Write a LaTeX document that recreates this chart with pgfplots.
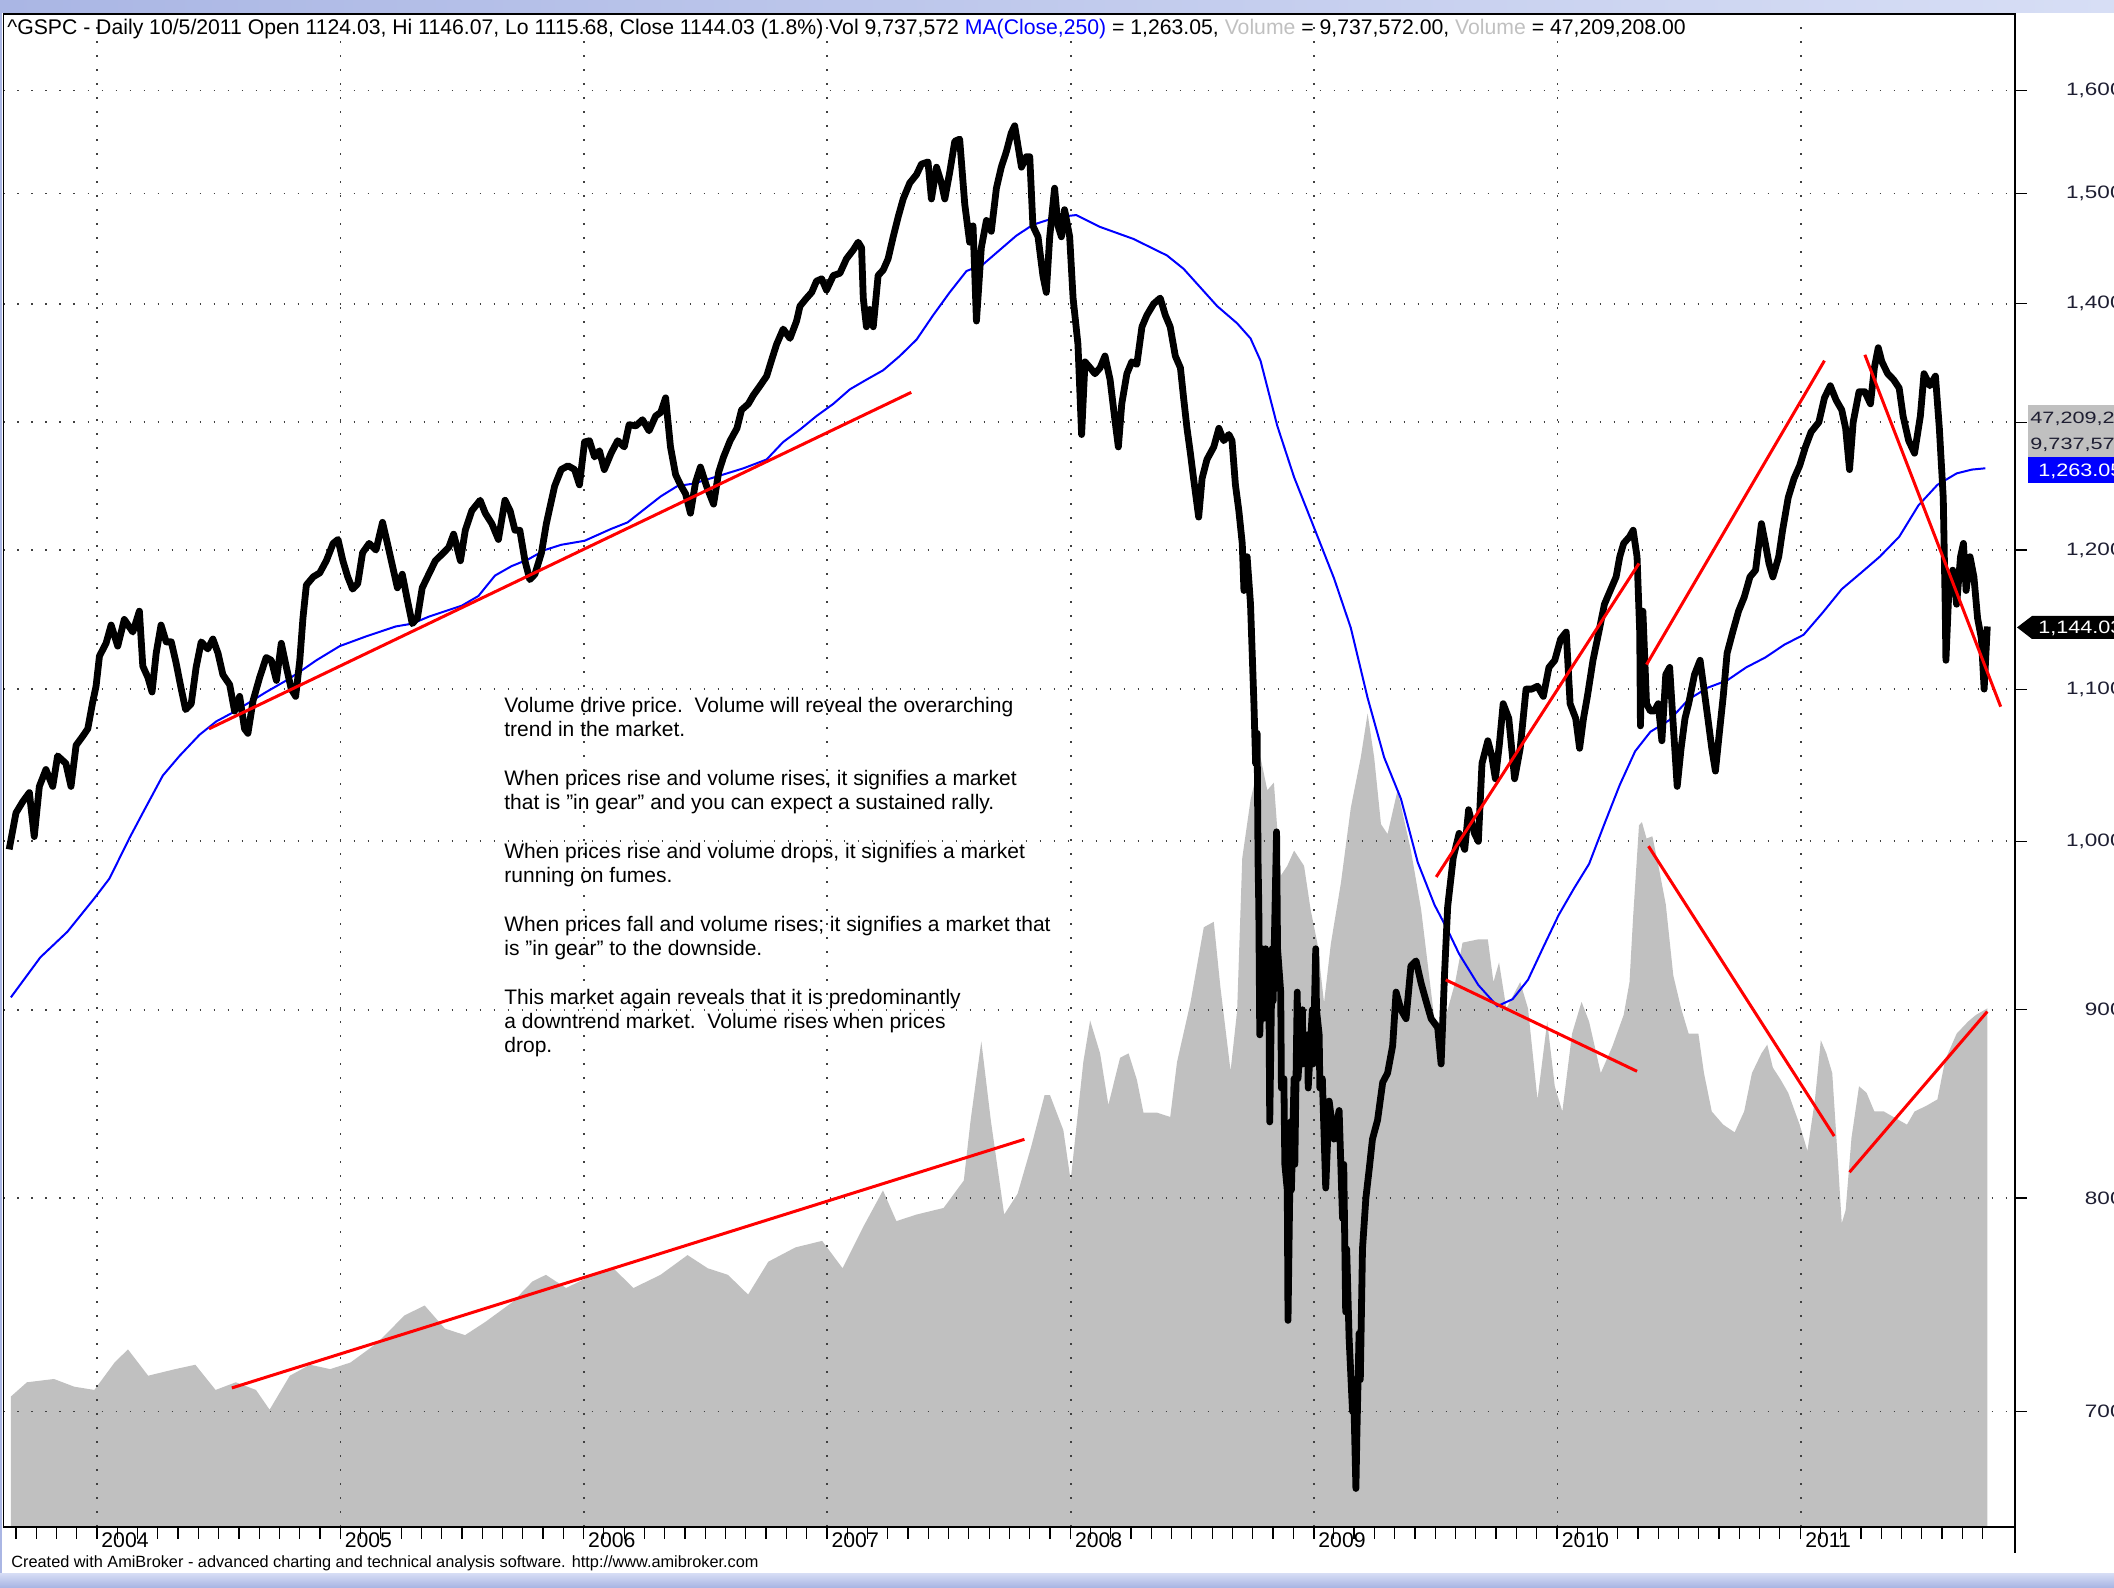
\documentclass[border=0pt]{standalone}
\usepackage{fontspec}
\setmainfont{Liberation Sans}
\usepackage{graphicx}
\usepackage{pgfplots}
\pgfplotsset{compat=1.18}
\usepackage{pgfplotstable}

\definecolor{volgray}{RGB}{192,192,192}
\definecolor{mablue}{RGB}{0,0,255}
\definecolor{trendred}{RGB}{255,0,0}
\definecolor{labink}{RGB}{30,30,50}
\definecolor{bannerA}{RGB}{170,182,228}
\definecolor{bannerB}{RGB}{215,222,245}

\newcommand{\sy}[1]{\scalebox{1.25}[1]{#1}}
\newcommand{\sx}[1]{\mbox{#1}}

\pgfplotstableread{
yr px
2003.639 995
2003.667 1018
2003.694 1025
2003.722 1031
2003.742 1003
2003.763 1035
2003.790 1046
2003.818 1035
2003.838 1055
2003.872 1050
2003.893 1035
2003.914 1062
2003.941 1068
2003.962 1073
2003.982 1091
2003.996 1102
2004.010 1123
2004.037 1132
2004.058 1145
2004.085 1130
2004.112 1149
2004.147 1140
2004.174 1155
2004.188 1116
2004.209 1108
2004.226 1098
2004.243 1125
2004.263 1145
2004.284 1133
2004.305 1133
2004.325 1118
2004.346 1100
2004.364 1086
2004.387 1090
2004.407 1115
2004.428 1133
2004.455 1128
2004.476 1135
2004.497 1125
2004.517 1110
2004.545 1103
2004.565 1085
2004.586 1095
2004.606 1073
2004.620 1070
2004.641 1092
2004.668 1108
2004.695 1122
2004.716 1120
2004.737 1106
2004.757 1132
2004.778 1115
2004.798 1100
2004.816 1095
2004.833 1120
2004.846 1150
2004.860 1174
2004.888 1180
2004.915 1183
2004.942 1192
2004.970 1205
2004.990 1208
2005.010 1192
2005.030 1180
2005.050 1171
2005.071 1175
2005.091 1198
2005.118 1205
2005.146 1200
2005.173 1221
2005.193 1205
2005.214 1188
2005.234 1172
2005.254 1182
2005.275 1163
2005.295 1146
2005.316 1150
2005.336 1172
2005.363 1182
2005.390 1192
2005.418 1197
2005.445 1202
2005.465 1212
2005.493 1192
2005.513 1215
2005.540 1230
2005.574 1238
2005.595 1228
2005.622 1220
2005.649 1208
2005.676 1238
2005.697 1230
2005.717 1215
2005.737 1215
2005.758 1192
2005.778 1178
2005.799 1182
2005.826 1198
2005.846 1220
2005.860 1232
2005.880 1249
2005.907 1262
2005.935 1265
2005.962 1262
2005.982 1250
2006.003 1284
2006.023 1285
2006.044 1272
2006.064 1277
2006.084 1262
2006.112 1275
2006.139 1285
2006.166 1280
2006.186 1298
2006.214 1297
2006.241 1302
2006.268 1293
2006.295 1305
2006.316 1308
2006.336 1320
2006.356 1280
2006.377 1258
2006.397 1250
2006.418 1243
2006.438 1228
2006.459 1252
2006.479 1264
2006.506 1248
2006.533 1235
2006.554 1260
2006.574 1272
2006.601 1285
2006.629 1295
2006.648 1310
2006.676 1315
2006.696 1322
2006.724 1330
2006.751 1338
2006.772 1352
2006.792 1365
2006.819 1378
2006.847 1370
2006.874 1385
2006.888 1398
2006.915 1405
2006.936 1410
2006.956 1420
2006.977 1422
2006.997 1412
2007.025 1425
2007.052 1427
2007.079 1440
2007.107 1448
2007.127 1455
2007.141 1450
2007.148 1405
2007.161 1380
2007.175 1395
2007.189 1380
2007.209 1425
2007.230 1430
2007.250 1440
2007.271 1460
2007.291 1478
2007.312 1495
2007.339 1510
2007.367 1518
2007.387 1528
2007.414 1530
2007.428 1495
2007.449 1525
2007.469 1510
2007.483 1495
2007.503 1520
2007.524 1550
2007.544 1552
2007.565 1490
2007.585 1455
2007.599 1470
2007.613 1385
2007.633 1450
2007.654 1475
2007.674 1465
2007.695 1505
2007.715 1525
2007.736 1540
2007.756 1558
2007.770 1565
2007.784 1545
2007.798 1525
2007.818 1535
2007.832 1535
2007.845 1470
2007.866 1460
2007.886 1425
2007.900 1410
2007.914 1460
2007.934 1505
2007.948 1470
2007.962 1460
2007.975 1485
2007.996 1460
2008.010 1405
2008.030 1365
2008.045 1290
2008.059 1350
2008.080 1345
2008.100 1340
2008.121 1345
2008.141 1355
2008.162 1335
2008.183 1300
2008.196 1280
2008.210 1315
2008.231 1340
2008.251 1350
2008.272 1348
2008.293 1380
2008.313 1390
2008.341 1400
2008.368 1405
2008.389 1390
2008.409 1380
2008.430 1355
2008.451 1345
2008.464 1320
2008.478 1295
2008.492 1275
2008.505 1255
2008.526 1225
2008.540 1255
2008.560 1270
2008.588 1280
2008.609 1295
2008.629 1285
2008.650 1290
2008.663 1285
2008.677 1250
2008.691 1230
2008.705 1205
2008.712 1170
2008.725 1195
2008.739 1160
2008.753 1090
2008.760 1050
2008.766 1070
2008.770 987
2008.773 960
2008.777 886
2008.787 935
2008.790 895
2008.801 935
2008.805 905
2008.815 900
2008.818 839
2008.828 935
2008.832 905
2008.846 1006
2008.850 935
2008.863 910
2008.866 857
2008.876 862
2008.880 817
2008.890 804
2008.893 741
2008.904 839
2008.907 804
2008.918 862
2008.921 817
2008.931 910
2008.934 862
2008.952 900
2008.955 870
2008.973 886
2008.976 857
2008.993 900
2008.996 870
2009.007 935
2009.010 900
2009.021 886
2009.024 857
2009.034 862
2009.048 805
2009.062 850
2009.082 830
2009.103 845
2009.117 790
2009.122 817
2009.130 745
2009.134 775
2009.144 733
2009.158 700
2009.162 712
2009.172 667
2009.176 690
2009.185 735
2009.190 714
2009.199 775
2009.213 800
2009.227 815
2009.240 830
2009.261 840
2009.282 860
2009.302 865
2009.323 880
2009.337 910
2009.357 900
2009.378 895
2009.398 925
2009.419 928
2009.440 915
2009.460 905
2009.481 895
2009.508 890
2009.522 870
2009.536 920
2009.549 960
2009.572 990
2009.596 1005
2009.619 995
2009.635 1020
2009.659 1005
2009.675 1000
2009.690 1050
2009.714 1065
2009.730 1055
2009.745 1040
2009.761 1062
2009.777 1090
2009.800 1080
2009.824 1040
2009.847 1060
2009.871 1100
2009.895 1100
2009.918 1102
2009.942 1095
2009.965 1115
2009.989 1120
2010.013 1135
2010.036 1140
2010.052 1090
2010.075 1080
2010.091 1060
2010.107 1080
2010.123 1095
2010.146 1120
2010.170 1140
2010.193 1160
2010.217 1170
2010.241 1180
2010.256 1195
2010.272 1205
2010.296 1210
2010.311 1215
2010.327 1195
2010.338 1140
2010.341 1075
2010.351 1155
2010.366 1090
2010.382 1085
2010.398 1085
2010.414 1090
2010.429 1065
2010.445 1110
2010.461 1115
2010.476 1075
2010.492 1035
2010.508 1060
2010.524 1080
2010.539 1090
2010.563 1110
2010.586 1120
2010.602 1100
2010.618 1080
2010.634 1060
2010.649 1045
2010.665 1070
2010.681 1095
2010.697 1125
2010.720 1140
2010.744 1155
2010.767 1165
2010.791 1180
2010.814 1185
2010.838 1220
2010.854 1205
2010.869 1190
2010.885 1180
2010.909 1195
2010.925 1215
2010.948 1240
2010.972 1255
2010.995 1265
2011.019 1280
2011.042 1292
2011.074 1300
2011.097 1320
2011.121 1330
2011.145 1318
2011.168 1310
2011.184 1295
2011.200 1262
2011.215 1300
2011.239 1325
2011.263 1325
2011.286 1315
2011.302 1345
2011.318 1362
2011.333 1350
2011.357 1340
2011.381 1335
2011.404 1328
2011.420 1305
2011.443 1285
2011.467 1275
2011.491 1305
2011.506 1340
2011.530 1330
2011.553 1338
2011.569 1295
2011.585 1240
2011.593 1160
2011.596 1120
2011.608 1170
2011.624 1185
2011.640 1160
2011.656 1195
2011.668 1205
2011.679 1170
2011.695 1195
2011.711 1180
2011.726 1150
2011.742 1135
2011.753 1100
2011.766 1144
}\pricetab

\pgfplotstableread{
yr ma
2003.646 907
2003.767 930
2003.878 945
2003.989 965
2004.051 977
2004.133 1002
2004.188 1018
2004.270 1042
2004.339 1055
2004.421 1069
2004.490 1078
2004.558 1084
2004.627 1091
2004.695 1098
2004.778 1106
2004.833 1112
2004.901 1120
2004.997 1130
2005.107 1137
2005.227 1144
2005.295 1146
2005.363 1151
2005.499 1159
2005.567 1166
2005.635 1181
2005.703 1188
2005.771 1193
2005.839 1200
2005.907 1204
2006.003 1207
2006.112 1216
2006.180 1221
2006.248 1231
2006.316 1241
2006.384 1249
2006.452 1251
2006.520 1255
2006.588 1259
2006.656 1263
2006.751 1270
2006.819 1284
2006.888 1294
2006.956 1305
2007.025 1315
2007.093 1327
2007.161 1335
2007.230 1343
2007.298 1355
2007.367 1369
2007.435 1390
2007.503 1410
2007.572 1429
2007.640 1435
2007.709 1448
2007.777 1461
2007.845 1471
2007.914 1476
2007.982 1479
2008.023 1480
2008.121 1469
2008.258 1458
2008.396 1443
2008.464 1431
2008.602 1398
2008.684 1383
2008.739 1370
2008.780 1351
2008.849 1297
2008.918 1256
2009.000 1217
2009.082 1179
2009.151 1143
2009.220 1094
2009.288 1054
2009.357 1027
2009.426 987
2009.495 961
2009.549 946
2009.596 932
2009.675 914
2009.753 902
2009.816 906
2009.879 917
2009.942 936
2010.005 955
2010.068 971
2010.130 986
2010.193 1011
2010.256 1036
2010.319 1058
2010.382 1071
2010.461 1079
2010.539 1093
2010.618 1101
2010.697 1106
2010.775 1115
2010.854 1122
2010.932 1131
2011.011 1138
2011.090 1154
2011.168 1171
2011.247 1183
2011.324 1195
2011.404 1210
2011.483 1234
2011.561 1250
2011.640 1259
2011.703 1262
2011.758 1263
}\matab

\pgfplotstableread{
yr v
2003.646 11.9
2003.712 13.2
2003.823 13.5
2003.906 12.8
2003.989 12.5
2004.072 15.0
2004.127 16.2
2004.210 13.8
2004.321 14.4
2004.404 14.8
2004.487 12.5
2004.570 13.2
2004.653 12.5
2004.709 10.7
2004.792 13.8
2004.875 14.8
2004.958 14.4
2005.041 15.0
2005.152 16.8
2005.263 19.3
2005.346 20.2
2005.429 18.1
2005.512 17.5
2005.595 18.7
2005.706 20.5
2005.789 22.4
2005.844 23.0
2005.927 21.8
2006.038 23.0
2006.121 23.6
2006.204 21.8
2006.315 23.0
2006.426 24.8
2006.509 23.6
2006.592 23.0
2006.675 21.2
2006.758 24.2
2006.869 25.5
2006.979 26.1
2007.063 23.6
2007.146 27.3
2007.229 30.7
2007.284 27.9
2007.367 28.5
2007.478 29.1
2007.561 31.6
2007.589 37.1
2007.633 44.3
2007.672 37.1
2007.727 28.5
2007.782 30.4
2007.838 34.7
2007.893 39.4
2007.915 39.4
2007.970 36.2
2008.000 31.6
2008.052 42.4
2008.080 46.2
2008.121 43.2
2008.155 38.5
2008.203 42.8
2008.238 43.2
2008.272 40.8
2008.299 37.8
2008.354 37.8
2008.409 37.4
2008.437 42.4
2008.492 47.8
2008.547 54.7
2008.588 55.2
2008.615 49.3
2008.657 41.6
2008.684 47.1
2008.705 61.0
2008.739 66.3
2008.780 70.2
2008.808 67.2
2008.835 67.9
2008.863 59.4
2008.890 60.3
2008.918 61.7
2008.959 60.3
2008.986 56.3
2009.014 53.2
2009.041 47.8
2009.069 53.2
2009.110 58.7
2009.151 65.6
2009.192 70.2
2009.220 74.2
2009.247 70.2
2009.275 64.1
2009.302 63.2
2009.343 67.2
2009.398 61.7
2009.440 56.3
2009.495 46.2
2009.533 45.9
2009.580 49.7
2009.610 53.3
2009.675 53.6
2009.714 53.6
2009.737 49.7
2009.760 51.5
2009.790 47.3
2009.847 49.7
2009.879 47.3
2009.918 39.0
2009.958 46.1
2009.989 40.2
2010.020 37.9
2010.060 45.0
2010.099 47.9
2010.130 46.1
2010.178 41.4
2010.225 43.8
2010.272 46.7
2010.296 49.7
2010.311 55.7
2010.335 64.0
2010.347 64.3
2010.366 62.8
2010.390 63.0
2010.414 60.4
2010.445 56.8
2010.476 50.3
2010.508 47.3
2010.539 45.0
2010.579 45.0
2010.602 41.4
2010.634 37.9
2010.681 36.7
2010.728 36.0
2010.767 37.9
2010.799 41.4
2010.838 43.2
2010.862 44.0
2010.885 41.9
2010.917 40.8
2010.948 39.6
2010.995 36.7
2011.027 34.3
2011.058 39.0
2011.082 44.4
2011.105 43.2
2011.129 41.4
2011.153 33.1
2011.168 27.7
2011.184 28.9
2011.208 35.5
2011.239 40.2
2011.270 39.6
2011.302 37.9
2011.341 37.9
2011.388 37.3
2011.436 36.7
2011.467 37.9
2011.514 38.4
2011.561 39.0
2011.593 42.6
2011.640 45.0
2011.687 46.1
2011.719 46.7
2011.766 47.3
}\voltab

\begin{document}
\begin{tikzpicture}
% decorative strips of the screenshot
\shade[left color=bannerA, right color=bannerB] (0pt,787pt) rectangle (1057pt,793.5pt);
\shade[top color=bannerB, bottom color=bannerA] (0pt,0pt) rectangle (1057pt,7pt);
\fill[bannerA] (0pt,7pt) rectangle (1.1pt,787pt);

% volume (background area)
\begin{axis}[
  at={(1.75pt,30pt)}, anchor=south west, scale only axis,
  width=1005.75pt, height=756.5pt,
  xmin=2003.6157, xmax=2011.8795, ymin=0, ymax=138,
  hide axis]
\addplot[fill=volgray, draw=none] table[x=yr,y=v]{\voltab} \closedcycle;
\end{axis}

% price axis
\begin{axis}[
  at={(1.75pt,30pt)}, anchor=south west, scale only axis,
  width=1005.75pt, height=756.5pt,
  xmin=2003.6157, xmax=2011.8795,
  ymode=log, ymin=651.2, ymax=1678.5,
  axis line style={black, line width=0.8pt},
  xtick={2004,2005,2006,2007,2008,2009,2010,2011},
  xticklabels={\sx{2004},\sx{2005},\sx{2006},\sx{2007},\sx{2008},\sx{2009},\sx{2010},\sx{2011}},
  minor xtick={2003.66667,2003.75,...,2011.76},
  ytick={700,800,900,1000,1100,1200,1300,1400,1500,1600},
  yticklabels={\sy{700},\sy{800},\sy{900},\sy{1,000},\sy{1,100},\sy{1,200},{},\sy{1,400},\sy{1,500},\sy{1,600}},
  xtick pos=bottom, ytick pos=right, tick align=outside,
  major tick length=6pt, minor tick length=6pt,
  tick style={black, line width=0.6pt},
  xticklabel style={font=\fontsize{10.6}{12}\selectfont, anchor=north west, inner sep=0pt, xshift=2pt, yshift=3pt},
  yticklabel style={font=\fontsize{9}{11}\selectfont, text=labink, anchor=east, inner sep=0pt, xshift=48pt},
  grid=major,
  major grid style={black!75, line width=0.9pt, dash pattern=on 0.9pt off 6.1pt},
  ]
\addplot[mablue, line width=1pt] table[x=yr,y=ma]{\matab};
\addplot[black, line width=3.4pt, line join=round] table[x=yr,y=px]{\pricetab};
\addplot[trendred, line width=1.5pt] coordinates {(2004.460,1073) (2007.345,1324.5)};
\addplot[trendred, line width=1.5pt] coordinates {(2004.554,710.4) (2007.810,829.9)};
\addplot[trendred, line width=1.5pt] coordinates {(2009.502,978) (2010.335,1190)};
\addplot[trendred, line width=1.5pt] coordinates {(2010.366,1117) (2011.097,1351)};
\addplot[trendred, line width=1.5pt] coordinates {(2011.263,1356) (2011.821,1088)};
\addplot[trendred, line width=1.5pt] coordinates {(2009.541,917) (2010.327,866)};
\addplot[trendred, line width=1.5pt] coordinates {(2010.374,997) (2011.137,831.6)};
\addplot[trendred, line width=1.5pt] coordinates {(2011.200,813) (2011.766,899)};
\end{axis}

% right frame extension below the axis
\draw[black, line width=0.8pt] (1007.5pt,30pt) -- (1007.5pt,17pt);

% header
\node[anchor=base west, inner sep=0pt, font=\fontsize{10.6}{12}\selectfont] at (3.5pt,776pt)
 {\textasciicircum GSPC - Daily 10/5/2011 Open 1124.03, Hi 1146.07, Lo 1115.68, Close 1144.03 (1.8\%) Vol 9,737,572 \textcolor{mablue}{MA(Close,250)} = 1,263.05, \textcolor{volgray}{Volume} = 9,737,572.00, \textcolor{volgray}{Volume} = 47,209,208.00};

% annotation text
\begin{scope}[every node/.style={anchor=base west, inner sep=0pt, font=\fontsize{10.5}{12}\selectfont}]
\node at (252pt,437pt) {Volume drive price.\ \ Volume will reveal the overarching};
\node at (252pt,425pt) {trend in the market.};
\node at (252pt,400.5pt) {When prices rise and volume rises, it signifies a market};
\node at (252pt,388.5pt) {that is "in gear" and you can expect a sustained rally.};
\node at (252pt,364.5pt) {When prices rise and volume drops, it signifies a market};
\node at (252pt,352.5pt) {running on fumes.};
\node at (252pt,328pt) {When prices fall and volume rises; it signifies a market that};
\node at (252pt,316pt) {is "in gear" to the downside.};
\node at (252pt,291.5pt) {This market again reveals that it is predominantly};
\node at (252pt,279.5pt) {a downtrend market.\ \ Volume rises when prices};
\node at (252pt,267.5pt) {drop.};
\end{scope}

% right-hand value labels
\fill[volgray] (1014.2pt,565pt) rectangle (1060pt,591pt);
\node[anchor=base west, inner sep=0pt, font=\fontsize{8.2}{9}\selectfont, text=labink] at (1015pt,581.6pt) {\scalebox{1.32}[1]{47,209,208.00}};
\node[anchor=base west, inner sep=0pt, font=\fontsize{8.2}{9}\selectfont, text=labink] at (1015pt,568.6pt) {\scalebox{1.32}[1]{9,737,572.00}};
\fill[mablue] (1014.2pt,552.2pt) rectangle (1060pt,565pt);
\node[anchor=base west, inner sep=0pt, font=\fontsize{9}{10}\selectfont, text=white] at (1019pt,555pt) {\scalebox{1.2}[1]{1,263.05}};
\fill[black] (1008.5pt,479.8pt) -- (1016pt,485.5pt) -- (1060pt,485.5pt) -- (1060pt,474pt) -- (1016pt,474pt) -- cycle;
\node[anchor=base west, inner sep=0pt, font=\fontsize{9}{10}\selectfont, text=white] at (1019pt,476.5pt) {\scalebox{1.2}[1]{1,144.03}};

% footer
\node[anchor=base west, inner sep=0pt, font=\fontsize{8.15}{9}\selectfont] at (5.5pt,10pt)
 {Created with AmiBroker - advanced charting and technical analysis software. http://www.amibroker.com};

\pgfresetboundingbox
\path[use as bounding box] (0pt,0pt) rectangle (1057pt,793.5pt);
\end{tikzpicture}
\end{document}
